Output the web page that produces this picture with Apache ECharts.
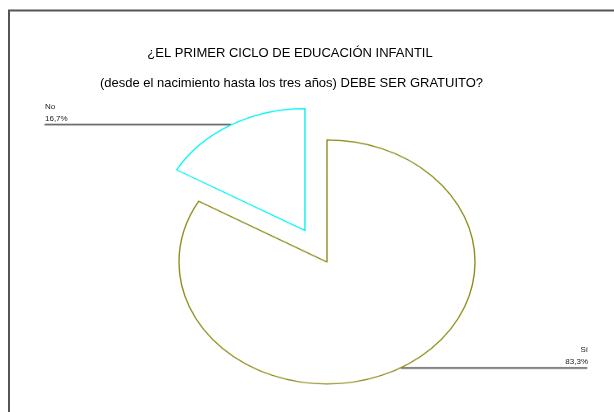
<!DOCTYPE html>
<html>
<head>
<meta charset="utf-8">
<script src="https://cdn.jsdelivr.net/npm/echarts@6/dist/echarts.min.js"></script>
<style>
  html, body { margin: 0; padding: 0; background: #fff; }
  #wrap { position: relative; width: 614px; height: 412px; overflow: hidden; }
  /* the pie is drawn in its own layer and flattened vertically to an ellipse */
  #pie { position: absolute; left: 0; top: 0; width: 614px; height: 500px;
         transform-origin: 0 0; transform: scaleY(0.8243); }
  #main { position: absolute; left: 0; top: 0; width: 614px; height: 412px; }
</style>
</head>
<body>
<div id="wrap">
  <div id="pie"></div>
  <div id="main"></div>
</div>
<script>
// Survey answers and their shares (%)
const categories = ['Sí', 'No'];
const shares = [83.3, 16.7];
const titleLines = [
  '¿EL PRIMER CICLO DE EDUCACIÓN INFANTIL',
  '(desde el nacimiento hasta los tres años) DEBE SER GRATUITO?'
];

const outlineColors = ['#8f8f1c', '#00f5f5'];
const fmtPct = v => v.toFixed(1).replace('.', ',') + '%';

const pieChart = echarts.init(document.getElementById('pie'), null, { renderer: 'canvas' });
pieChart.setOption({
  animation: false,
  series: [{
    type: 'pie',
    center: [327, 317.8],
    radius: 148,
    startAngle: 90,
    clockwise: true,
    silent: true,
    selectedMode: 'single',
    selectedOffset: 44,
    avoidLabelOverlap: false,
    emphasis: { disabled: true, scale: false },
    label: {
      show: true,
      position: 'outer',
      color: 'transparent',
      fontSize: 8,
      formatter: p => p.name
    },
    labelLine: {
      show: true,
      length: 0.5,
      length2: 186,
      minTurnAngle: 0,
      lineStyle: { color: '#6b6b6b', width: 2.2 }
    },
    data: categories.map((name, i) => ({
      name: name,
      value: shares[i],
      selected: name === 'No',
      itemStyle: { color: '#ffffff', borderColor: outlineColors[i], borderWidth: 1.4 }
    }))
  }]
});

// Titles, frame and slice captions sit in an unscaled layer on top
const textStyle = (extra) => Object.assign({
  fontFamily: 'Liberation Sans, Arial, sans-serif',
  fill: '#1a1a1a'
}, extra);

const mainChart = echarts.init(document.getElementById('main'), null, { renderer: 'canvas' });
mainChart.setOption({
  animation: false,
  graphic: [
    { type: 'rect', shape: { x: 9, y: 10.5, width: 640, height: 440 },
      style: { fill: 'none', stroke: '#555555', lineWidth: 2 } },
    { type: 'text', x: 290, y: 53,
      style: textStyle({ text: titleLines[0], fontSize: 13, align: 'center', verticalAlign: 'middle', fill: '#000' }) },
    { type: 'text', x: 291.5, y: 83,
      style: textStyle({ text: titleLines[1], fontSize: 13, align: 'center', verticalAlign: 'middle', fill: '#000' }) },
    // "No" caption, left end of its leader line
    { type: 'text', x: 45, y: 107,
      style: textStyle({ text: categories[1], fontSize: 8, align: 'left', verticalAlign: 'middle' }) },
    { type: 'text', x: 45, y: 119,
      style: textStyle({ text: fmtPct(shares[1]), fontSize: 8, align: 'left', verticalAlign: 'middle' }) },
    // "Sí" caption, right end of its leader line
    { type: 'text', x: 588, y: 350,
      style: textStyle({ text: categories[0], fontSize: 8, align: 'right', verticalAlign: 'middle' }) },
    { type: 'text', x: 588, y: 362,
      style: textStyle({ text: fmtPct(shares[0]), fontSize: 8, align: 'right', verticalAlign: 'middle' }) }
  ]
});
</script>
</body>
</html>
